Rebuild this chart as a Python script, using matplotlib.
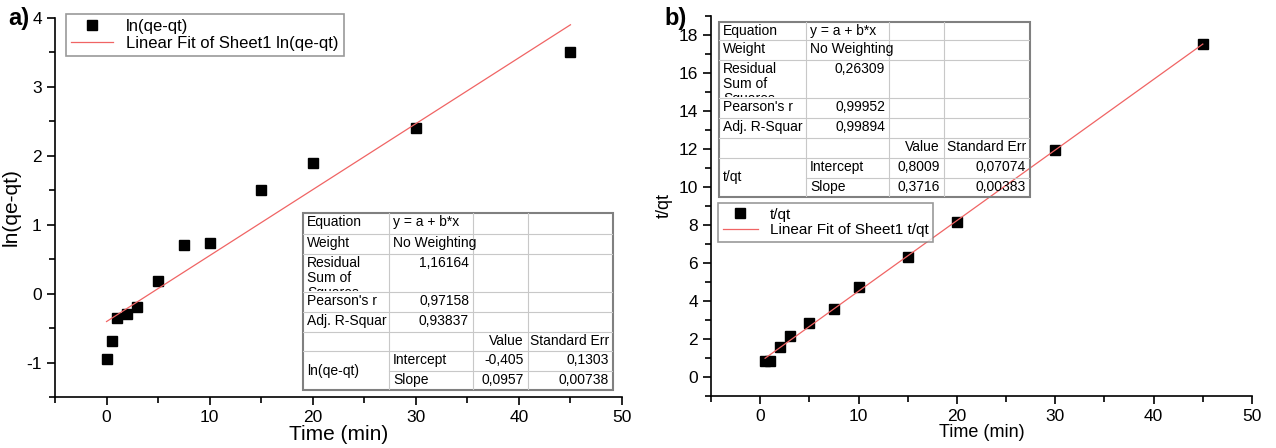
import matplotlib
matplotlib.use('Agg')
import matplotlib.pyplot as plt
from matplotlib.patches import Rectangle
from matplotlib.ticker import MultipleLocator
import numpy as np

plt.rcParams['font.family'] = ['Liberation Sans', 'DejaVu Sans']
plt.rcParams['axes.unicode_minus'] = False

# panel a: pseudo-first-order
time_a = [0, 0.5, 1, 2, 3, 5, 7.5, 10, 15, 20, 30, 45]
ln_qe_qt = [-0.95, -0.69, -0.36, -0.29, -0.19, 0.18, 0.70, 0.74, 1.51, 1.90, 2.41, 3.51]
fit_a = (-0.405, 0.0957)

# panel b: pseudo-second-order
time_b = [0.5, 1, 2, 3, 5, 7.5, 10, 15, 20, 30, 45]
t_qt = [0.82, 0.86, 1.60, 2.15, 2.83, 3.58, 4.72, 6.30, 8.15, 11.97, 17.50]
fit_b = (0.8009, 0.3716)

table_a = [['Equation', 'y = a + b*x', '', ''],
           ['Weight', 'No Weighting', '', ''],
           ['Residual\nSum of\nSquares', '1,16164', '', ''],
           ["Pearson's r", '0,97158', '', ''],
           ['Adj. R-Squar', '0,93837', '', ''],
           ['', '', 'Value', 'Standard Err'],
           ['ln(qe-qt)', 'Intercept', '-0,405', '0,1303'],
           ['', 'Slope', '0,0957', '0,00738']]
table_b = [['Equation', 'y = a + b*x', '', ''],
           ['Weight', 'No Weighting', '', ''],
           ['Residual\nSum of\nSquares', '0,26309', '', ''],
           ["Pearson's r", '0,99952', '', ''],
           ['Adj. R-Squar', '0,99894', '', ''],
           ['', '', 'Value', 'Standard Err'],
           ['t/qt', 'Intercept', '0,8009', '0,07074'],
           ['', 'Slope', '0,3716', '0,00383']]

W, H = 1276, 448
fig = plt.figure(figsize=(W / 100, H / 100), dpi=100)


def px_axes(x0, y0, x1, y1, **kw):
    return fig.add_axes([x0 / W, 1 - y1 / H, (x1 - x0) / W, (y1 - y0) / H], **kw)


def style(ax, ymin, ymax, ymaj, ymin_step):
    for s in ['top', 'right']:
        ax.spines[s].set_visible(False)
    for s in ['left', 'bottom']:
        ax.spines[s].set_linewidth(1.2)
    ax.set_xlim(-5, 50)
    ax.set_ylim(ymin, ymax)
    ax.xaxis.set_major_locator(MultipleLocator(10))
    ax.xaxis.set_minor_locator(MultipleLocator(5))
    ax.yaxis.set_major_locator(MultipleLocator(ymaj))
    ax.yaxis.set_minor_locator(MultipleLocator(ymin_step))
    ax.tick_params(which='major', direction='out', length=6, width=1.2, labelsize=12.5)
    ax.tick_params(which='minor', direction='out', length=4, width=1.2)


def draw_table(x0, y0, colx, rowy, data, fs=10):
    tab = px_axes(x0, y0, colx[-1], rowy[-1])
    tab.set_xlim(x0, colx[-1])
    tab.set_ylim(rowy[-1], y0)
    tab.axis('off')
    tab.add_patch(Rectangle((x0, y0), colx[-1] - x0, rowy[-1] - y0, fill=False,
                            ec='#808080', lw=1.5, clip_on=False))
    xs = [x0] + colx
    ys = [y0] + rowy
    for y in rowy[:-1]:
        if y == rowy[-2]:
            tab.plot([colx[0], colx[-1]], [y, y], color='#c8c8c8', lw=0.8)
        else:
            tab.plot([x0, colx[-1]], [y, y], color='#c8c8c8', lw=0.8)
    for x in colx[:-1]:
        tab.plot([x, x], [y0, rowy[-1]], color='#c8c8c8', lw=0.8)
    for r, row in enumerate(data):
        for c, txt in enumerate(row):
            if not txt:
                continue
            left, right = xs[c], xs[c + 1]
            top, bot = ys[r], ys[r + 1]
            numeric = txt[0].isdigit() or txt[0] == '-'
            if c == 0 and r == 6:
                bot = ys[r + 2]
                tab.text(left + 4, (top + bot) / 2, txt, ha='left', va='center', fontsize=fs)
            elif numeric or (r == 5):
                tab.text(right - 4, top + 2, txt, ha='right', va='top', fontsize=fs)
            elif r == 2 and c == 0:
                # the cell is too short, last line gets cut like in the original
                t = tab.text(left + 4, top + 2, txt, ha='left', va='top', fontsize=fs,
                             linespacing=1.1, clip_on=True)
                clip = Rectangle((left, top), right - left, bot - top - 1,
                                 transform=tab.transData)
                t.set_clip_path(clip)
            else:
                tab.text(left + 4, top + 2, txt, ha='left', va='top', fontsize=fs)


# ---- panel a ----
ax1 = px_axes(55, 18, 622, 397)
style(ax1, -1.5, 4, 1, 0.5)
xf = np.array([time_a[0], time_a[-1]])
ax1.plot(time_a, ln_qe_qt, 's', color='black', ms=7, label='ln(qe-qt)')
ax1.plot(xf, fit_a[0] + fit_a[1] * xf, color='#f06464', lw=0.9,
         label='Linear Fit of Sheet1 ln(qe-qt)')
ax1.set_xlabel('Time (min)', fontsize=15, labelpad=0)
ax1.set_ylabel('ln(qe-qt)', fontsize=15, labelpad=4)
leg = ax1.legend(loc='upper left', bbox_to_anchor=(0.02, 1.01), fontsize=12,
                 frameon=True, fancybox=False, edgecolor='#808080', borderpad=0.3,
                 handlelength=2.5, labelspacing=0.1, borderaxespad=0)
leg.get_frame().set_linewidth(1.2)
fig.text(8 / W, 1 - 18 / H, 'a)', fontsize=17, fontweight='bold', va='center')
draw_table(303, 213, [389, 473, 528, 613], [234, 254, 292, 312, 332, 351, 371, 390], table_a)

# ---- panel b ----
ax2 = px_axes(711, 16, 1252, 396)
style(ax2, -1, 19, 2, 1)
xf = np.array([time_b[0], time_b[-1]])
ax2.plot(time_b, t_qt, 's', color='black', ms=6.5, label='t/qt')
ax2.plot(xf, fit_b[0] + fit_b[1] * xf, color='#f06464', lw=0.9,
         label='Linear Fit of Sheet1 t/qt')
ax2.set_xlabel('Time (min)', fontsize=13, labelpad=0)
ax2.set_ylabel('t/qt', fontsize=13, labelpad=4)
leg = ax2.legend(loc='upper left', bbox_to_anchor=(7 / 541, 1 - 187 / 380), fontsize=11,
                 frameon=True, fancybox=False, edgecolor='#808080', borderpad=0.3,
                 handlelength=2.3, labelspacing=0.1, borderaxespad=0)
leg.get_frame().set_linewidth(1.2)
fig.text(664 / W, 1 - 18 / H, 'b)', fontsize=17, fontweight='bold', va='center')
draw_table(719, 22, [806, 889, 944, 1030], [40, 60, 98, 118, 138, 158, 178, 197], table_b)

fig.savefig('out.png', dpi=100)
